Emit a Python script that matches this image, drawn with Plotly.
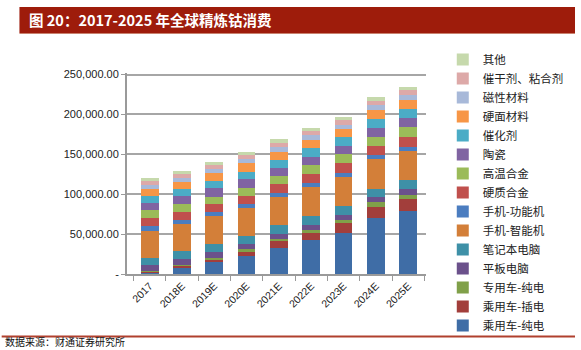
import plotly.graph_objects as go

years = ["2017", "2018E", "2019E", "2020E", "2021E", "2022E", "2023E", "2024E", "2025E"]

# series listed bottom -> top of the stack
series_names = ["乘用车-纯电", "乘用车-插电", "专用车-纯电", "平板电脑", "笔记本电脑",
                "手机-智能机", "手机-功能机", "硬质合金", "高温合金", "陶瓷",
                "催化剂", "硬面材料", "磁性材料", "催干剂、粘合剂", "其他"]

ev_bev = [2000, 8300, 14500, 22800, 32700, 42500, 51000, 70500, 78800]
ev_phev = [1000, 2000, 4100, 5400, 8300, 9100, 12400, 13700, 15300]
special_ev = [500, 1200, 2000, 2900, 2900, 3300, 4100, 5800, 5400]
tablet = [7500, 7900, 7500, 7000, 6600, 7000, 7000, 6200, 7500]
laptop = [9500, 9500, 10000, 9500, 10400, 10400, 10400, 10800, 10400]
smartphone = [34000, 34000, 35000, 35000, 36000, 37300, 37300, 37300, 37300]
featurephone = [5400, 4500, 4500, 5000, 5000, 5000, 5000, 5000, 5000]
hard_alloy = [10400, 10400, 10400, 10800, 10400, 10800, 11600, 11600, 12400]
superalloy = [9500, 9500, 9100, 10000, 10400, 11200, 11200, 11200, 11600]
ceramics = [9100, 10000, 10400, 10400, 10400, 10400, 10800, 11200, 12000]
catalyst = [9100, 9100, 9100, 9500, 10400, 10400, 10400, 10800, 10800]
hardfacing = [9100, 9100, 9500, 10400, 9500, 11200, 10400, 11200, 11200]
magnetic = [4600, 4600, 5000, 5000, 6200, 5400, 5800, 6200, 7000]
drier_adhesive = [5400, 5400, 5400, 5400, 5000, 5400, 5400, 5000, 5400]
others = [3700, 4100, 4100, 4100, 5400, 4100, 4100, 5400, 4100]

series_values = [ev_bev, ev_phev, special_ev, tablet, laptop, smartphone, featurephone,
                 hard_alloy, superalloy, ceramics, catalyst, hardfacing, magnetic,
                 drier_adhesive, others]

colors = ["#3F6DA6", "#A23E3B", "#80A049", "#6B518B", "#3E90A7", "#D37F39", "#4B7DC0",
          "#C0504D", "#9BBB59", "#8064A2", "#4BACC6", "#F79646", "#A8B9D9", "#DDA9A8", "#C6D9AC"]

y_tickvals = [0, 50000, 100000, 150000, 200000, 250000]
y_ticktext = ["-", "50,000.00", "100,000.00", "150,000.00", "200,000.00", "250,000.00"]

title_text = "图 20：2017-2025 年全球精炼钴消费"
source_text = "数据来源：财通证券研究所"

fig = go.Figure()
for name, vals, col in zip(series_names, series_values, colors):
    fig.add_trace(go.Bar(x=years, y=vals, name=name, marker=dict(color=col, line=dict(width=0))))

W, H = 581, 350
L, R, T, B = 127, 151, 73, 76
pw, ph = W - L - R, H - T - B

def px_x(x):
    return (x - L) / pw

def px_y(y):
    return (H - B - y) / ph

fig.update_layout(
    width=W, height=H,
    margin=dict(l=L, r=R, t=T, b=B),
    barmode="stack",
    bargap=0.45,
    plot_bgcolor="white",
    paper_bgcolor="white",
    font=dict(family="Noto Sans CJK SC, Liberation Sans, sans-serif", color="#222"),
    showlegend=True,
    legend=dict(
        traceorder="reversed",
        x=px_x(447), xanchor="left",
        y=px_y(45), yanchor="top",
        maxheight=330,
        font=dict(size=11.5, family="Noto Sans CJK SC", color="#222"),
        itemwidth=30,
        tracegroupgap=0,
        bgcolor="rgba(0,0,0,0)",
    ),
    xaxis=dict(
        range=[-0.7, 8.55],
        showline=True, linecolor="#9a9a9a", linewidth=1.5,
        ticks="outside", tickson="boundaries", ticklen=5, tickcolor="#9a9a9a",
        tickangle=-45,
        tickfont=dict(family="Liberation Sans", size=10.5, color="#222"),
        showgrid=False,
    ),
    yaxis=dict(
        range=[0, 252000],
        tickvals=y_tickvals, ticktext=y_ticktext,
        showline=True, linecolor="#9a9a9a", linewidth=2,
        ticks="outside", ticklen=4, tickcolor="#9a9a9a",
        showgrid=True, gridcolor="#a6a6a6", gridwidth=1.5,
        tickfont=dict(family="Liberation Sans", size=11, color="#222"),
        zeroline=False,
    ),
    shapes=[
        dict(type="rect", xref="paper", yref="paper",
             x0=px_x(18), x1=px_x(581), y0=px_y(33), y1=px_y(7),
             fillcolor="#9E1C0B", line=dict(width=0), layer="above"),
        dict(type="line", xref="paper", yref="paper",
             x0=px_x(18), x1=px_x(581), y0=px_y(33.5), y1=px_y(33.5),
             line=dict(color="#C9826F", width=1)),
        dict(type="line", xref="paper", yref="paper",
             x0=px_x(0), x1=px_x(581), y0=px_y(336.5), y1=px_y(336.5),
             line=dict(color="#B0402E", width=2)),
    ],
    annotations=[
        dict(text="<b>" + title_text + "</b>", xref="paper", yref="paper",
             x=px_x(26), y=px_y(20), xanchor="left", yanchor="middle",
             showarrow=False, font=dict(size=14.5, color="white", family="Noto Sans CJK SC")),
        dict(text=source_text, xref="paper", yref="paper",
             x=px_x(2), y=px_y(349.5), xanchor="left", yanchor="bottom",
             borderpad=0,
             showarrow=False, font=dict(size=10, color="#111", family="Noto Sans CJK SC")),
    ],
)

fig.write_html("out.html")
